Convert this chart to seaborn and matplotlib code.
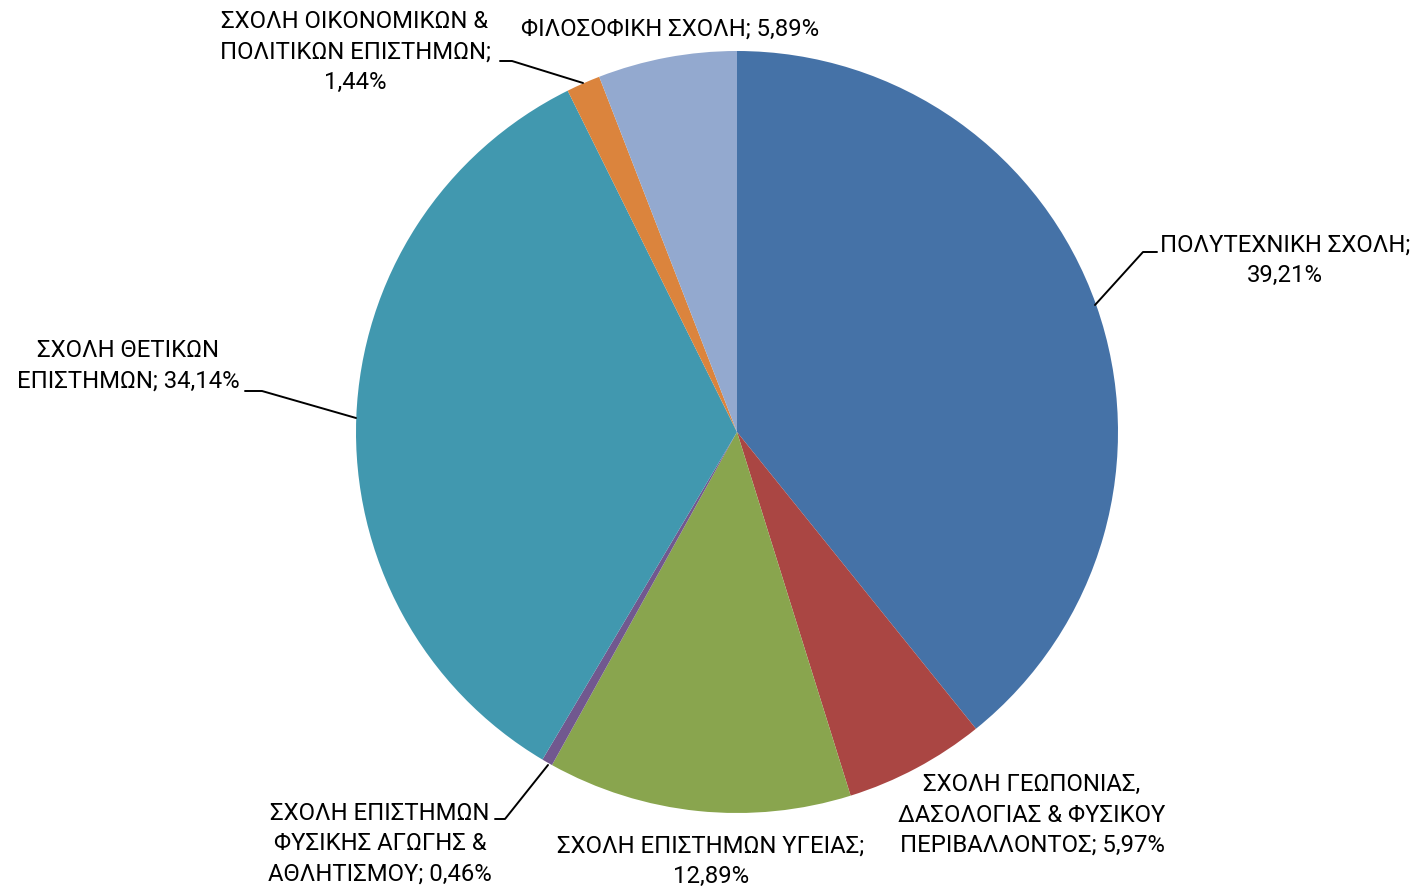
import numpy as np
import seaborn as sns
import matplotlib.pyplot as plt

# Δεδομένα: κατανομή ανά σχολή
schools = [
    'ΠΟΛΥΤΕΧΝΙΚΗ ΣΧΟΛΗ',
    'ΣΧΟΛΗ ΓΕΩΠΟΝΙΑΣ, ΔΑΣΟΛΟΓΙΑΣ & ΦΥΣΙΚΟΥ ΠΕΡΙΒΑΛΛΟΝΤΟΣ',
    'ΣΧΟΛΗ ΕΠΙΣΤΗΜΩΝ ΥΓΕΙΑΣ',
    'ΣΧΟΛΗ ΕΠΙΣΤΗΜΩΝ ΦΥΣΙΚΗΣ ΑΓΩΓΗΣ & ΑΘΛΗΤΙΣΜΟΥ',
    'ΣΧΟΛΗ ΘΕΤΙΚΩΝ ΕΠΙΣΤΗΜΩΝ',
    'ΣΧΟΛΗ ΟΙΚΟΝΟΜΙΚΩΝ & ΠΟΛΙΤΙΚΩΝ ΕΠΙΣΤΗΜΩΝ',
    'ΦΙΛΟΣΟΦΙΚΗ ΣΧΟΛΗ',
]
percent = [39.21, 5.97, 12.89, 0.46, 34.14, 1.44, 5.89]

# Ετικέτες όπως εμφανίζονται στο γράφημα (με αλλαγές γραμμής)
label_texts = [
    'ΠΟΛΥΤΕΧΝΙΚΗ ΣΧΟΛΗ;\n39,21%',
    'ΣΧΟΛΗ ΓΕΩΠΟΝΙΑΣ,\nΔΑΣΟΛΟΓΙΑΣ & ΦΥΣΙΚΟΥ\nΠΕΡΙΒΑΛΛΟΝΤΟΣ; 5,97%',
    'ΣΧΟΛΗ ΕΠΙΣΤΗΜΩΝ ΥΓΕΙΑΣ;\n12,89%',
    'ΣΧΟΛΗ ΕΠΙΣΤΗΜΩΝ\nΦΥΣΙΚΗΣ ΑΓΩΓΗΣ &\nΑΘΛΗΤΙΣΜΟΥ; 0,46%',
    'ΣΧΟΛΗ ΘΕΤΙΚΩΝ\nΕΠΙΣΤΗΜΩΝ; 34,14%',
    'ΣΧΟΛΗ ΟΙΚΟΝΟΜΙΚΩΝ &\nΠΟΛΙΤΙΚΩΝ ΕΠΙΣΤΗΜΩΝ;\n1,44%',
    'ΦΙΛΟΣΟΦΙΚΗ ΣΧΟΛΗ; 5,89%',
]

colors = ['#4572A7', '#AA4643', '#89A54E', '#71588F', '#4198AF', '#DB843D', '#93A9CF']

W, H = 1412, 889

sns.set_theme(style='white')
plt.rcParams['font.family'] = ['Roboto', 'DejaVu Sans']

fig = plt.figure(figsize=(W / 100, H / 100), dpi=100)
ax = fig.add_axes([0, 0, 1, 1])
ax.set_xlim(0, W)
ax.set_ylim(0, H)
ax.set_aspect('equal')
ax.axis('off')

ax.pie(percent, colors=sns.color_palette(colors), startangle=90, counterclock=False,
       center=(737, H - 432), radius=381, wedgeprops=dict(linewidth=0))
ax.set_xlim(0, W)
ax.set_ylim(0, H)

# Θέσεις ετικετών (κέντρο κειμένου, σε pixel)
label_pos = [(1285, 260), (1032, 815), (711, 861), (380, 844), (128, 366), (355, 52), (670, 29)]
for txt, (x, y) in zip(label_texts, label_pos):
    ax.text(x, H - y, txt, ha='center', va='center', fontsize=17.2, color='black',
            linespacing=1.42)

# Γραμμές σύνδεσης
leaders = [
    [(1157, 252), (1143, 252), (1095, 305)],
    [(495, 819), (505, 819), (548, 765)],
    [(245, 391), (262, 391), (356, 418)],
    [(500, 61), (512, 61), (583, 83)],
]
for pts in leaders:
    xs = [p[0] for p in pts]
    ys = [H - p[1] for p in pts]
    ax.plot(xs, ys, color='black', linewidth=1.4)

plt.savefig('out.png', dpi=100, facecolor='white')
